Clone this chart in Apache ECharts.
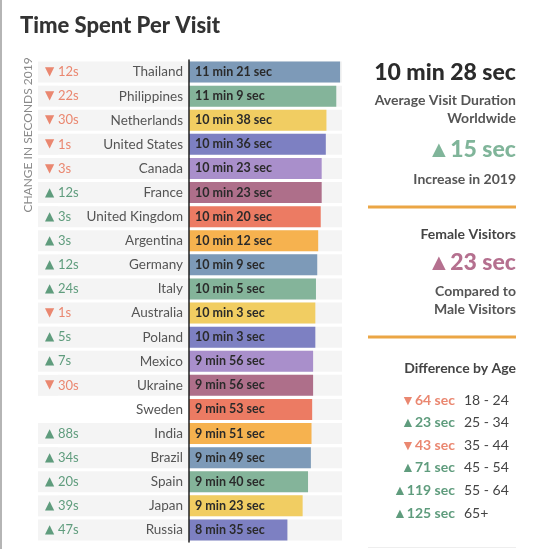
<!DOCTYPE html>
<html><head><meta charset="utf-8">
<script src="https://cdn.jsdelivr.net/npm/echarts@6/dist/echarts.min.js"></script>
<style>html,body{margin:0;padding:0;background:#fff;}#c{width:540px;height:549px;}</style>
</head><body><div id="c"></div>
<script>
const countries = ['Thailand','Philippines','Netherlands','United States','Canada','France','United Kingdom','Argentina','Germany','Italy','Australia','Poland','Mexico','Ukraine','Sweden','India','Brazil','Spain','Japan','Russia'];
const visitSeconds = [681,669,638,636,623,623,620,612,609,605,603,603,596,596,593,591,589,580,563,515];
const changeSeconds = [-12,-22,-30,-1,-3,12,3,3,12,24,-1,5,7,-30,null,88,34,20,39,47];
const ageGroups = ['18 - 24','25 - 34','35 - 44','45 - 54','55 - 64','65+'];
const ageDiff = [-64,23,-43,71,119,125];
const avgDuration = 628;
const avgIncrease = 15;
const femaleDiff = 23;

const palette = ['#7d9ab8','#84b49a','#f1cd62','#7d80c2','#a98fcb','#ae6f8a','#ec7b63','#f6b24f'];
const UP = '#5f9c7d', DOWN = '#ea8770';
const F = 'Lato, "Open Sans", sans-serif';
const fmt = v => Math.floor(v/60) + ' min ' + (v%60) + ' sec';

const chart = echarts.init(document.getElementById('c'), null, {renderer:'canvas'});

const graphics = [
  {type:'rect', shape:{x:0,y:0,width:2,height:549}, style:{fill:'#b5b5b5'}},
  {type:'rect', shape:{x:368,y:547,width:148,height:1}, style:{fill:'#eeeeee'}},
  {type:'text', x:20, y:26, style:{text:'Time Spent Per Visit', font:'900 22px '+F, fill:'#333', textVerticalAlign:'middle'}},
  {type:'text', x:28, y:135, rotation:Math.PI/2, style:{text:'CHANGE IN SECONDS 2019', font:'12px '+F, fill:'#8a8a8a', textAlign:'center', textVerticalAlign:'middle'}},
  {type:'text', x:516, y:73, style:{text:fmt(avgDuration), font:'900 23px '+F, fill:'#2b2b2b', textAlign:'right', textVerticalAlign:'middle'}},
  {type:'text', x:516, y:100, style:{text:'Average Visit Duration', font:'bold 14px '+F, fill:'#555', textAlign:'right', textVerticalAlign:'middle'}},
  {type:'text', x:516, y:118, style:{text:'Worldwide', font:'bold 14px '+F, fill:'#555', textAlign:'right', textVerticalAlign:'middle'}},
  {type:'text', x:516, y:150, style:{text:'▲' + avgIncrease + ' sec', font:'900 23px '+F, fill:'#80b59a', textAlign:'right', textVerticalAlign:'middle'}},
  {type:'text', x:516, y:179, style:{text:'Increase in 2019', font:'bold 14px '+F, fill:'#555', textAlign:'right', textVerticalAlign:'middle'}},
  {type:'rect', shape:{x:368,y:205.5,width:148,height:3}, style:{fill:'#eba645'}},
  {type:'text', x:516, y:234, style:{text:'Female Visitors', font:'bold 14px '+F, fill:'#444', textAlign:'right', textVerticalAlign:'middle'}},
  {type:'text', x:516, y:263, style:{text:'▲' + femaleDiff + ' sec', font:'900 23px '+F, fill:'#b5708f', textAlign:'right', textVerticalAlign:'middle'}},
  {type:'text', x:516, y:291, style:{text:'Compared to', font:'bold 14px '+F, fill:'#555', textAlign:'right', textVerticalAlign:'middle'}},
  {type:'text', x:516, y:309, style:{text:'Male Visitors', font:'bold 14px '+F, fill:'#555', textAlign:'right', textVerticalAlign:'middle'}},
  {type:'rect', shape:{x:368,y:335.5,width:148,height:3}, style:{fill:'#eba645'}},
  {type:'text', x:516, y:368, style:{text:'Difference by Age', font:'bold 14px '+F, fill:'#444', textAlign:'right', textVerticalAlign:'middle'}}
];
ageGroups.forEach((g,i) => {
  const y = 400 + i*22.6;
  const d = ageDiff[i];
  graphics.push({type:'text', x:455, y:y, style:{text:(d<0?'▼':'▲') + Math.abs(d) + ' sec', font:'bold 14px '+F, fill:d<0?DOWN:UP, textAlign:'right', textVerticalAlign:'middle'}});
  graphics.push({type:'text', x:464, y:y, style:{text:g, font:'14px '+F, fill:'#444', textAlign:'left', textVerticalAlign:'middle'}});
});

chart.setOption({
  animation:false,
  grid:{left:189, right:198, top:60, bottom:7},
  xAxis:{type:'value', min:205, max:687, show:false},
  yAxis:[
    {type:'category', data:countries, inverse:true, position:'left', z:3,
      axisLine:{show:true, lineStyle:{color:'#222', width:1.5}},
      axisTick:{show:false},
      axisLabel:{margin:6, color:'#555', fontFamily:F, fontSize:13.5}
    },
    {type:'category', data:countries, inverse:true, position:'left', z:0,
      axisLine:{show:false}, axisTick:{show:false},
      axisLabel:{margin:151, align:'left', fontFamily:F, fontSize:13,
        formatter:(v, i) => {
          const c = changeSeconds[i];
          if (c === null || c === undefined) return '';
          return c < 0 ? '{pd|}{td|▼}{dn|' + Math.abs(c) + 's}' : '{pd|}{tu|▲}{up|' + c + 's}';
        },
        rich:{
          pd:{width:7, height:21, backgroundColor:'#f4f4f4'},
          td:{color:DOWN, fontSize:12, width:13, height:21, align:'left', backgroundColor:'#f4f4f4', fontFamily:'DejaVu Sans'},
          tu:{color:UP, fontSize:12, width:13, height:21, align:'left', backgroundColor:'#f4f4f4', fontFamily:'DejaVu Sans'},
          dn:{color:DOWN, fontFamily:F, fontSize:13, width:131, height:21, backgroundColor:'#f4f4f4', align:'left'},
          up:{color:UP, fontFamily:F, fontSize:13, width:131, height:21, backgroundColor:'#f4f4f4', align:'left'}
        }
      }
    }
  ],
  series:[{
    type:'bar', data:visitSeconds, barWidth:21, yAxisIndex:0,
    showBackground:true, backgroundStyle:{color:'#f4f4f4'},
    itemStyle:{color:p => palette[p.dataIndex % palette.length]},
    label:{show:true, position:'insideLeft', distance:6, formatter:p => fmt(p.value), fontFamily:F, fontWeight:'bold', fontSize:12.5, color:'#2a2a2a'}
  }],
  graphic:graphics
});
</script></body></html>
